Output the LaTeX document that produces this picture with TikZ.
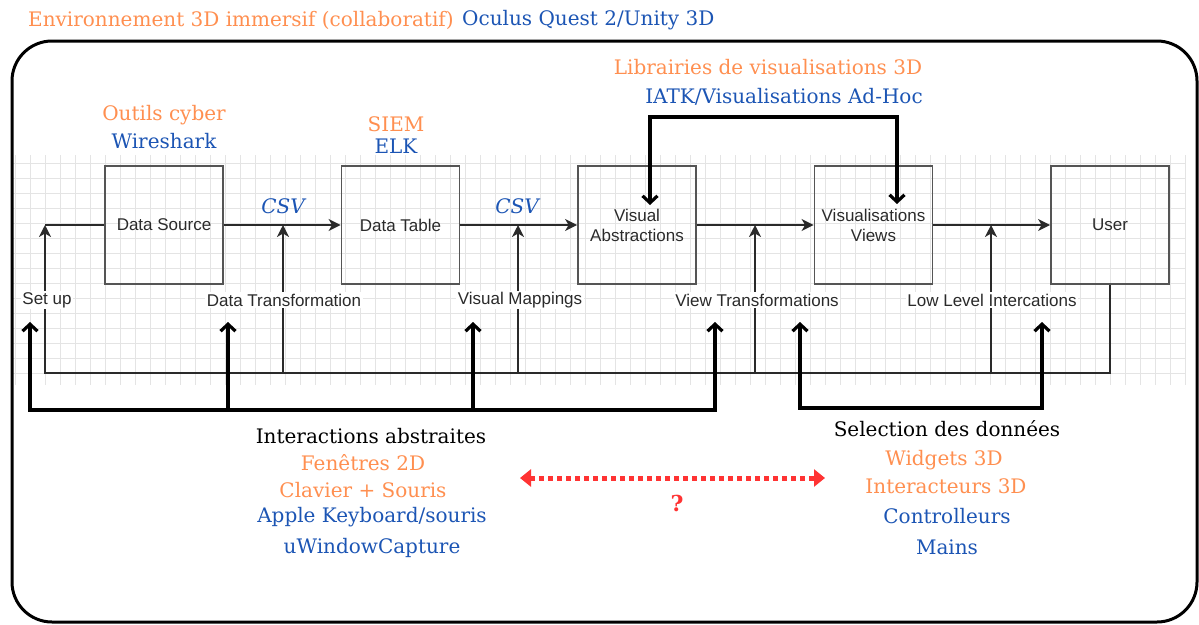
\documentclass[tikz,border=0pt]{standalone}
\usepackage{fontspec}
\setmainfont{DejaVu Serif}
\newfontfamily\lab{Liberation Sans}
\usetikzlibrary{arrows.meta}
\definecolor{orng}{HTML}{FF8F50}
\definecolor{blu}{HTML}{1C55B4}
\definecolor{redd}{HTML}{FF3333}
\definecolor{gridc}{HTML}{E4E4E4}
\definecolor{boxc}{HTML}{555555}
\definecolor{txtc}{HTML}{2A2A2A}
\begin{document}
\begin{tikzpicture}[x=1pt,y=-1pt,
 box/.style={draw=boxc, line width=1.8pt, minimum width=118pt, minimum height=118pt, inner sep=0pt, align=center, font=\lab\fontsize{17}{20}\selectfont, text=txtc},
 lbl/.style={fill=white, inner sep=1.5pt, font=\lab\fontsize{17}{20}\selectfont, text=txtc},
 ser/.style={font=\fontsize{20}{24}\selectfont, inner sep=0pt},
 ortxt/.style={ser, text=orng},
 blutxt/.style={ser, text=blu},
 blktxt/.style={ser, text=black},
 thinarr/.style={draw=txtc, line width=1.6pt, -{Stealth[length=12pt,width=12pt,inset=3.5pt]}},
 thinline/.style={draw=txtc, line width=1.6pt},
 thk/.style={line width=3.2pt, line join=miter},
 redarr/.style={draw=redd, line width=5pt, dash pattern=on 5pt off 4pt, {Triangle[length=11pt,width=17pt]}-{Triangle[length=11pt,width=17pt]}},
]
\useasboundingbox (0,0) rectangle (1199,624);
% grid
\foreach \i in {0,...,78} \draw[gridc, line width=0.8pt] ({15+15*\i},155) -- ({15+15*\i},385);
\foreach \j in {0,...,14} \draw[gridc, line width=0.8pt] (13,{163+15*\j}) -- (1185,{163+15*\j});
% frame
\draw[line width=3pt, rounded corners=40pt] (12,41) rectangle (1197,622);
% titles
\node[ortxt, anchor=west] (t1) at (28,20) {Environnement 3D immersif (collaboratif)};
\node[blutxt, anchor=west] (t2) at (462,20) {Oculus Quest 2/Unity 3D};
% boxes
\node[box] (ds) at (164,225) {Data Source};
\node[box] (dt) at (400.5,225) {Data Table};
\node[box] (va) at (637,225) {Visual\\Abstractions};
\node[box] (vv) at (873.5,225) {Visualisations\\Views};
\node[box] (us) at (1110,225) {User};
% main flow
\draw[thinarr] (ds.east) -- (dt.west);
\draw[thinarr] (dt.east) -- (va.west);
\draw[thinarr] (va.east) -- (vv.west);
\draw[thinarr] (vv.east) -- (us.west);
% feedback loop
\coordinate (c0) at (45,225);
\coordinate (cL) at (45,373);
\draw[thinarr] (us.south) |- (cL) -- (c0);
\draw[thinline] (c0) -- (ds.west);
\coordinate (b1) at (283,373); \coordinate (b1t) at (283,225);
\coordinate (b2) at (518,373); \coordinate (b2t) at (518,225);
\coordinate (b3) at (755,373); \coordinate (b3t) at (755,225);
\coordinate (b4) at (991,373); \coordinate (b4t) at (991,225);
\draw[thinarr] (b1) -- (b1t);
\draw[thinarr] (b2) -- (b2t);
\draw[thinarr] (b3) -- (b3t);
\draw[thinarr] (b4) -- (b4t);
% labels
\node[lbl] (lsu) at (47,300) {Set up};
\node[lbl] (ldt) at (284,300) {Data Transformation};
\node[lbl] (lvm) at (520,300) {Visual Mappings};
\node[lbl] (lvt) at (757,300) {View Transformations};
\node[lbl] (lll) at (992,300) {Low Level Intercations};
% thick brackets
\coordinate (p1) at (30,322); \coordinate (q1) at (30,410);
\coordinate (p2) at (228,322); \coordinate (q2) at (228,410);
\coordinate (p3) at (473,322); \coordinate (q3) at (473,410);
\coordinate (p4) at (715,322); \coordinate (q4) at (715,410);
\draw[thk, {Straight Barb[length=7pt,width=15pt]}-{Straight Barb[length=7pt,width=15pt]}] (p1) -- (q1) -- (q4) -- (p4);
\draw[thk, -{Straight Barb[length=7pt,width=15pt]}] (q2) -- (p2);
\draw[thk, -{Straight Barb[length=7pt,width=15pt]}] (q3) -- (p3);
\coordinate (r1) at (800,322); \coordinate (s1) at (800,408);
\coordinate (r2) at (1042,322); \coordinate (s2) at (1042,408);
\draw[thk, {Straight Barb[length=7pt,width=15pt]}-{Straight Barb[length=7pt,width=15pt]}] (r1) -- (s1) -- (s2) -- (r2);
\coordinate (u1) at (650,205); \coordinate (v1) at (650,117);
\coordinate (u2) at (897,204); \coordinate (v2) at (897,117);
\draw[thk, {Straight Barb[length=7pt,width=15pt]}-{Straight Barb[length=7pt,width=15pt]}] (u1) -- (v1) -- (v2) -- (u2);
% serif labels
\node[ortxt] (oc) at (164,115) {Outils cyber};
\node[blutxt] (ws) at (164,141) {Wireshark};
\node[ortxt] (siem) at (396,124) {SIEM};
\node[blutxt] (elk) at (396,146) {ELK};
\node[blutxt, font=\itshape\fontsize{20}{24}\selectfont] (csv1) at (283,206) {CSV};
\node[blutxt, font=\itshape\fontsize{20}{24}\selectfont] (csv2) at (517,206) {CSV};
\node[ortxt] (lib) at (768,67) {Librairies de visualisations 3D};
\node[blutxt] (iatk) at (784,97) {IATK/Visualisations Ad-Hoc};
\node[blktxt] (ia) at (371,436) {Interactions abstraites};
\node[ortxt] (f2d) at (363,463) {Fenêtres 2D};
\node[ortxt] (cs) at (363,490) {Clavier + Souris};
\node[blutxt] (ak) at (372,517) {Apple Keyboard/souris};
\node[blutxt] (uw) at (372,548) {uWindowCapture};
\node[blktxt] (sd) at (947,429) {Selection des données};
\node[ortxt] (w3) at (944,460) {Widgets 3D};
\node[ortxt] (i3) at (946,486) {Interacteurs 3D};
\node[blutxt] (ct) at (947,516) {Controlleurs};
\node[blutxt] (mn) at (947,547) {Mains};
% red arrow
\coordinate (ra) at (520,478); \coordinate (rb) at (825,478);
\draw[redarr] (ra) -- (rb);
\node[text=redd, font=\bfseries\fontsize{22}{24}\selectfont, inner sep=0pt] (qm) at (677,503) {?};
\end{tikzpicture}
\end{document}
